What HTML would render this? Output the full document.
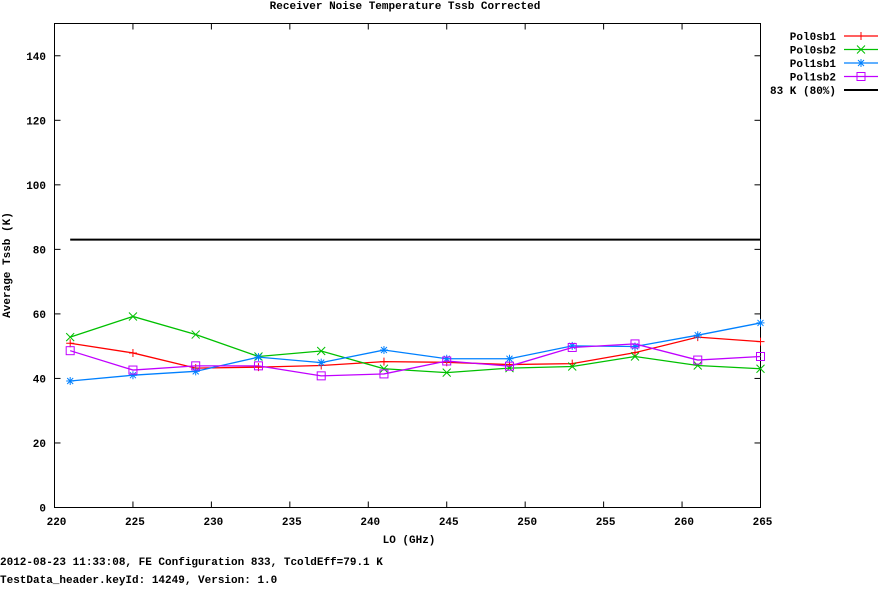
<!DOCTYPE html>
<html><head><meta charset="utf-8"><style>
body{margin:0;background:#fff;}
svg text{font-family:"Liberation Mono","DejaVu Sans Mono",monospace;font-size:11px;font-weight:bold;fill:#000;}
</style></head><body>
<svg id="chart" width="880" height="586" xmlns="http://www.w3.org/2000/svg">
<text x="405" y="9" text-anchor="middle">Receiver Noise Temperature Tssb Corrected</text>
<rect x="54.5" y="23.5" width="706" height="484" fill="none" stroke="#000" stroke-width="1"/>
<g id="axes"></g>
<g id="series"></g>
<g id="legend"></g>
<text x="10" y="265" text-anchor="middle" transform="rotate(-90 10 265)">Average Tssb (K)</text>
<text x="409" y="543" text-anchor="middle">LO (GHz)</text>
<text x="0" y="565">2012-08-23 11:33:08, FE Configuration 833, TcoldEff=79.1 K</text>
<text x="0" y="583">TestData_header.keyId: 14249, Version: 1.0</text>
</svg>
<script>
const lo = [221,225,229,233,237,241,245,249,253,257,261,265];
const pol0sb1 = [50.9,47.9,43.2,43.5,44.0,45.2,45.0,44.3,44.6,48.0,52.8,51.4];
const pol0sb2 = [52.8,59.2,53.6,46.8,48.5,43.0,41.8,43.2,43.7,46.8,44.0,43.0];
const pol1sb1 = [39.2,41.0,42.2,46.6,44.9,48.8,46.1,46.1,50.1,49.9,53.4,57.2];
const pol1sb2 = [48.6,42.6,43.9,43.9,40.8,41.4,45.4,43.8,49.6,50.7,45.7,46.8];
const xTicks = [220,225,230,235,240,245,250,255,260,265];
const yTicks = [0,20,40,60,80,100,120,140];
const limitValue = 83;
const limitRange = [221,265];
const seriesNames = ["Pol0sb1","Pol0sb2","Pol1sb1","Pol1sb2"];
const NS="http://www.w3.org/2000/svg";
const X = v => 54.5 + (v-220)*(706/45);
const Y = v => 507.5 - v*(484/150);
function mk(tag, attrs, parent){const e=document.createElementNS(NS,tag);for(const k in attrs)e.setAttribute(k,attrs[k]);parent.appendChild(e);return e;}
const axes=document.getElementById('axes');
xTicks.forEach(t=>{
  const l=mk('line',{x1:X(t),x2:X(t),y1:507.5,y2:501.5,stroke:'#000'},axes);
  
  
  const l2=mk('line',{x1:X(t),x2:X(t),y1:23.5,y2:29.5,stroke:'#000'},axes);
  
  
  const tx=mk('text',{x:X(t)+2,y:525,'text-anchor':'middle'},axes);tx.textContent=t;
  
  
});
yTicks.forEach(t=>{
  const l=mk('line',{x1:54.5,x2:60.5,y1:Y(t),y2:Y(t),stroke:'#000'},axes);
  
  
  const l2=mk('line',{x1:754.5,x2:760.5,y1:Y(t),y2:Y(t),stroke:'#000'},axes);
  
  
  const tx=mk('text',{x:46,y:Y(t)+4,'text-anchor':'end'},axes);tx.textContent=t;
  
  
});
const sg=document.getElementById('series');
const colors=['#ff0000','#00c000','#0080ff','#c000ff'];
const data=[pol0sb1,pol0sb2,pol1sb1,pol1sb2];
function marker(i,x,y,g){
  let e;
  if(i===0){e=mk('path',{d:`M${x-4},${y}H${x+4}M${x},${y-4}V${y+4}`,stroke:colors[i],fill:'none'},g);}
  else if(i===1){e=mk('path',{d:`M${x-4},${y-4}L${x+4},${y+4}M${x-4},${y+4}L${x+4},${y-4}`,stroke:colors[i],fill:'none'},g);}
  else if(i===2){e=mk('path',{d:`M${x-4},${y}H${x+4}M${x},${y-4}V${y+4}M${x-3},${y-3}L${x+3},${y+3}M${x-3},${y+3}L${x+3},${y-3}`,stroke:colors[i],fill:'none'},g);}
  else {e=mk('rect',{x:x-4,y:y-4,width:8,height:8,stroke:colors[i],fill:'none'},g);}
  return e;
}
data.forEach((s,i)=>{
  const g=mk('g',{},sg);
  
  
  const pl=mk('polyline',{points:s.map((v,j)=>X(lo[j])+','+Y(v)).join(' '),fill:'none',stroke:colors[i],'stroke-width':1.3},g);
  
  
  s.forEach((v,j)=>{
    const m=marker(i,X(lo[j]),Y(v),g);
    
    
  });
});
const lim=mk('line',{x1:X(limitRange[0]),x2:X(limitRange[1]),y1:Y(limitValue),y2:Y(limitValue),stroke:'#000','stroke-width':2},sg);


const lg=document.getElementById('legend');
const labels=seriesNames.concat(['83 K (80%)']);
labels.forEach((n,i)=>{
  const y=36+i*13.5;
  const t=mk('text',{x:836,y:y+4,'text-anchor':'end'},lg);t.textContent=n;
  
  
  const col=i<4?colors[i]:'#000';
  const l=mk('line',{x1:844,x2:878,y1:y,y2:y,stroke:col,'stroke-width':i<4?1.3:2},lg);
  
  
  if(i<4){const m=marker(i,861,y,lg);
    
    }
});
</script>
</body></html>
